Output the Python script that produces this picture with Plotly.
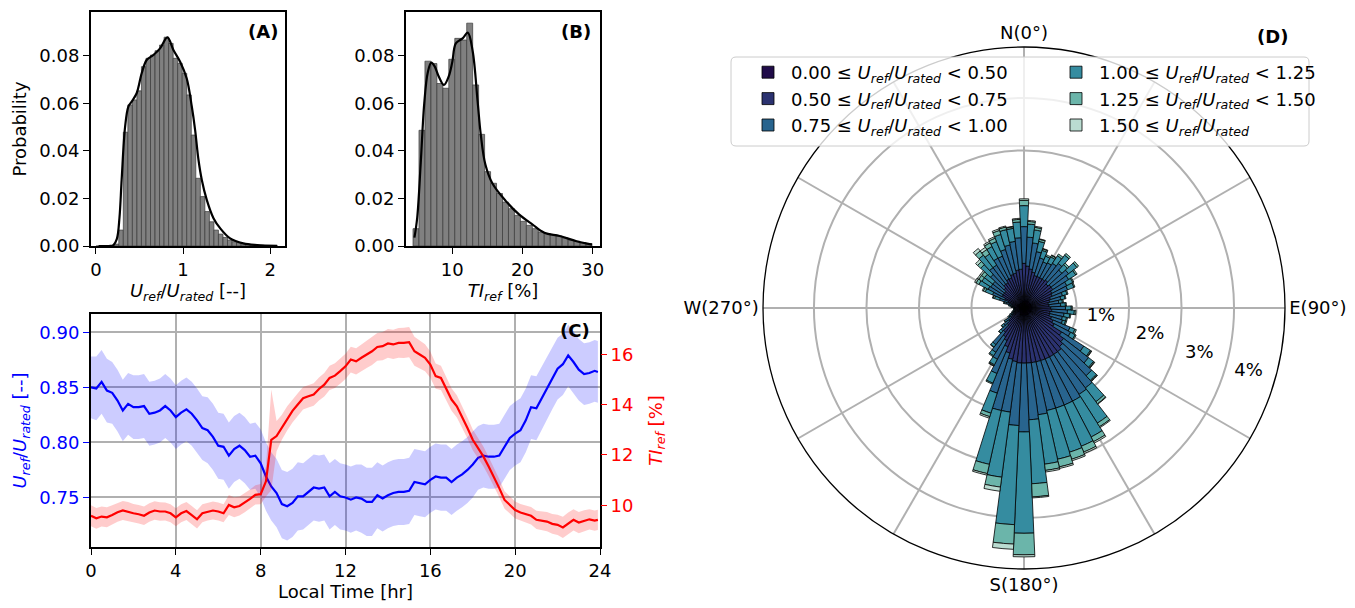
import math
import plotly.graph_objects as go

W, H = 1355, 608
FONT = "DejaVu Sans"
FS = 18

# ---------------- (A) normalised wind speed distribution ----------------
u_bin_width = 0.052
u_bin_centers = [0.028 + u_bin_width * i for i in range(40)]
u_prob = [0.0, 0.0, 0.0001, 0.0002, 0.0008, 0.0067, 0.0479, 0.0594, 0.0615, 0.0653,
          0.0755, 0.0790, 0.0804, 0.0822, 0.0846, 0.0879, 0.0853, 0.0790, 0.0769, 0.0727,
          0.0636, 0.0467, 0.0285, 0.0208, 0.0145, 0.0102, 0.0067, 0.0050, 0.0036, 0.0025,
          0.0018, 0.0014, 0.0011, 0.0008, 0.0006, 0.0004, 0.0003, 0.0002, 0.0001, 0.0001]
u_kde_x = [0.03, 0.15, 0.20, 0.24, 0.27, 0.295, 0.334, 0.372, 0.41, 0.467, 0.525, 0.582,
           0.659, 0.736, 0.82, 0.889, 0.966, 1.042, 1.10, 1.138, 1.177, 1.215, 1.272, 1.349,
           1.425, 1.54, 1.69, 1.85, 2.08]
u_kde_y = [0.0, 0.0, 0.0004, 0.003, 0.012, 0.028, 0.050, 0.0587, 0.0608, 0.0643, 0.0727,
           0.0783, 0.0804, 0.0832, 0.0878, 0.0825, 0.0776, 0.0705, 0.0587, 0.0489, 0.0362,
           0.0278, 0.0194, 0.0117, 0.0075, 0.0032, 0.0011, 0.0004, 0.0001]

# ---------------- (B) turbulence intensity distribution ----------------
ti_bin_width = 0.85
ti_bin_centers = [4.825 + ti_bin_width * i for i in range(30)]
ti_prob = [0.0073, 0.0487, 0.0778, 0.0768, 0.0684, 0.0664, 0.0786, 0.0874, 0.0867, 0.0938,
           0.0678, 0.0470, 0.0313, 0.0264, 0.0221, 0.0185, 0.0157, 0.0129, 0.0104, 0.0087,
           0.0073, 0.0059, 0.0052, 0.0048, 0.0042, 0.0034, 0.0025, 0.0020, 0.0014, 0.0010]
ti_kde_x = [4.6, 5.0, 5.5, 6.0, 6.5, 7.0, 7.5, 8.0, 8.8, 9.5, 10.0, 10.5, 11.5, 12.2,
            12.9, 13.6, 14.05, 14.7, 15.7, 17.6, 19.5, 21.4, 23.1, 25.3, 27.7, 29.9]
ti_kde_y = [0.0035, 0.012, 0.035, 0.060, 0.073, 0.0772, 0.0755, 0.0718, 0.0678, 0.0715,
            0.0775, 0.0853, 0.0875, 0.0898, 0.082, 0.061, 0.047, 0.0344, 0.0264, 0.019,
            0.0133, 0.0091, 0.0056, 0.0042, 0.002, 0.0006]

# ---------------- (C) diurnal cycle ----------------
hours = [0.25 * i for i in range(96)] + [23.9]
u_mean = [0.850, 0.849, 0.855, 0.847, 0.845, 0.838, 0.829, 0.835, 0.832, 0.832, 0.833, 0.826,
          0.827, 0.829, 0.833, 0.829, 0.823, 0.827, 0.830, 0.826, 0.820, 0.813, 0.811, 0.805,
          0.797, 0.796, 0.788, 0.794, 0.797, 0.793, 0.787, 0.788, 0.781, 0.769, 0.760, 0.754,
          0.744, 0.742, 0.745, 0.751, 0.751, 0.755, 0.759, 0.758, 0.759, 0.751, 0.755, 0.751,
          0.750, 0.748, 0.750, 0.749, 0.746, 0.746, 0.752, 0.749, 0.752, 0.754, 0.755, 0.755,
          0.756, 0.764, 0.763, 0.762, 0.766, 0.769, 0.768, 0.768, 0.764, 0.768, 0.771, 0.775,
          0.780, 0.786, 0.788, 0.787, 0.787, 0.788, 0.796, 0.804, 0.808, 0.811, 0.820, 0.832,
          0.831, 0.840, 0.849, 0.858, 0.867, 0.871, 0.879, 0.873, 0.866, 0.862, 0.863, 0.865,
          0.864]
u_std = [0.028, 0.029, 0.029, 0.029, 0.028, 0.028, 0.028, 0.028, 0.029, 0.029, 0.029, 0.029,
         0.029, 0.029, 0.029, 0.029, 0.029, 0.029, 0.029, 0.029, 0.029, 0.029, 0.030, 0.030,
         0.030, 0.030, 0.030, 0.030, 0.030, 0.030, 0.030, 0.030, 0.031, 0.031, 0.031, 0.031,
         0.031, 0.031, 0.031, 0.031, 0.030, 0.030, 0.030, 0.030, 0.030, 0.030, 0.030, 0.030,
         0.030, 0.030, 0.030, 0.031, 0.031, 0.031, 0.030, 0.030, 0.030, 0.030, 0.030, 0.030,
         0.030, 0.030, 0.030, 0.030, 0.030, 0.030, 0.030, 0.030, 0.030, 0.030, 0.030, 0.030,
         0.030, 0.029, 0.029, 0.029, 0.029, 0.029, 0.029, 0.029, 0.029, 0.029, 0.029, 0.029,
         0.029, 0.029, 0.028, 0.028, 0.028, 0.028, 0.028, 0.028, 0.028, 0.028, 0.028, 0.028,
         0.028]
ti_mean = [9.58, 9.48, 9.55, 9.52, 9.61, 9.72, 9.79, 9.75, 9.68, 9.64, 9.58, 9.71,
           9.79, 9.75, 9.75, 9.68, 9.52, 9.68, 9.77, 9.61, 9.44, 9.68, 9.75, 9.79,
           9.75, 9.68, 10.01, 9.92, 9.97, 10.10, 10.25, 10.41, 10.44, 10.95, 12.60, 12.75,
           13.10, 13.45, 13.75, 14.00, 14.25, 14.33, 14.40, 14.62, 14.79, 15.06, 15.15, 15.33,
           15.52, 15.79, 15.72, 15.86, 15.99, 16.12, 16.29, 16.32, 16.43, 16.39, 16.45, 16.45,
           16.48, 16.12, 15.99, 15.86, 15.59, 15.13, 15.06, 14.60, 14.20, 13.93, 13.53, 13.07,
           12.60, 12.27, 11.94, 11.54, 11.14, 10.68, 10.21, 10.01, 9.81, 9.71, 9.65, 9.58,
           9.42, 9.39, 9.35, 9.26, 9.22, 9.12, 9.28, 9.42, 9.31, 9.39, 9.44, 9.39,
           9.42]
ti_std = [0.42, 0.41, 0.40, 0.40, 0.39, 0.38, 0.38, 0.38, 0.37, 0.37, 0.37, 0.37,
          0.37, 0.37, 0.36, 0.36, 0.36, 0.36, 0.36, 0.36, 0.36, 0.36, 0.36, 0.36,
          0.36, 0.36, 0.40, 0.40, 0.38, 0.38, 0.38, 0.38, 0.40, 0.60, 2.00, 0.60,
          0.50, 0.48, 0.46, 0.45, 0.45, 0.45, 0.45, 0.46, 0.47, 0.48, 0.49, 0.50,
          0.50, 0.51, 0.52, 0.53, 0.54, 0.55, 0.55, 0.56, 0.57, 0.58, 0.59, 0.60,
          0.60, 0.58, 0.56, 0.54, 0.52, 0.50, 0.48, 0.46, 0.45, 0.44, 0.43, 0.42,
          0.41, 0.40, 0.39, 0.38, 0.37, 0.36, 0.35, 0.34, 0.34, 0.34, 0.34, 0.35,
          0.36, 0.37, 0.38, 0.39, 0.40, 0.42, 0.43, 0.42, 0.42, 0.41, 0.40, 0.40,
          0.40]

# ---------------- (D) wind rose: frequency [%] per 5-deg sector and speed class ----------------
directions = [5 * i for i in range(72)]
speed_labels = [
    "0.00 ≤ <i>U</i><sub><i>ref</i></sub>/<i>U</i><sub><i>rated</i></sub> &lt; 0.50",
    "0.50 ≤ <i>U</i><sub><i>ref</i></sub>/<i>U</i><sub><i>rated</i></sub> &lt; 0.75",
    "0.75 ≤ <i>U</i><sub><i>ref</i></sub>/<i>U</i><sub><i>rated</i></sub> &lt; 1.00",
    "1.00 ≤ <i>U</i><sub><i>ref</i></sub>/<i>U</i><sub><i>rated</i></sub> &lt; 1.25",
    "1.25 ≤ <i>U</i><sub><i>ref</i></sub>/<i>U</i><sub><i>rated</i></sub> &lt; 1.50",
    "1.50 ≤ <i>U</i><sub><i>ref</i></sub>/<i>U</i><sub><i>rated</i></sub>",
]
speed_colors = ["#200c49", "#2b3270", "#28648e", "#358ca0", "#6bb5aa", "#badcd1"]
# each row of 12 covers 60 degrees: 0-55, 60-115, 120-175, 180-235, 240-295, 300-355
freq_000_050 = [0.15, 0.15, 0.15, 0.15, 0.15, 0.15, 0.15, 0.15, 0.15, 0.15, 0.15, 0.15,
                0.15, 0.15, 0.15, 0.15, 0.15, 0.15, 0.15, 0.15, 0.15, 0.15, 0.15, 0.15,
                0.15, 0.15, 0.15, 0.15, 0.15, 0.15, 0.15, 0.15, 0.15, 0.15, 0.15, 0.15,
                0.15, 0.15, 0.15, 0.15, 0.15, 0.15, 0.15, 0.15, 0.13, 0.12, 0.12, 0.10,
                0.10, 0.10, 0.10, 0.10, 0.10, 0.10, 0.10, 0.10, 0.10, 0.10, 0.12, 0.12,
                0.12, 0.12, 0.12, 0.12, 0.12, 0.12, 0.12, 0.12, 0.12, 0.13, 0.13, 0.14]
freq_050_075 = [0.70, 0.65, 0.60, 0.55, 0.50, 0.50, 0.50, 0.50, 0.52, 0.47, 0.50, 0.50,
                0.45, 0.43, 0.38, 0.35, 0.32, 0.33, 0.36, 0.38, 0.35, 0.35, 0.40, 0.45,
                0.50, 0.70, 0.80, 0.85, 0.90, 0.90, 0.90, 0.90, 0.90, 0.90, 0.90, 0.90,
                0.90, 0.90, 0.88, 0.85, 0.75, 0.65, 0.55, 0.50, 0.45, 0.32, 0.25, 0.20,
                0.15, 0.12, 0.10, 0.08, 0.07, 0.07, 0.07, 0.09, 0.11, 0.15, 0.20, 0.28,
                0.35, 0.35, 0.35, 0.40, 0.45, 0.45, 0.50, 0.50, 0.55, 0.55, 0.60, 0.60]
freq_075_100 = [0.70, 0.55, 0.50, 0.40, 0.35, 0.30, 0.32, 0.36, 0.40, 0.36, 0.42, 0.36,
                0.32, 0.32, 0.24, 0.22, 0.20, 0.22, 0.28, 0.30, 0.27, 0.25, 0.22, 0.35,
                0.35, 0.50, 0.60, 0.75, 0.87, 0.90, 0.95, 0.95, 0.95, 0.95, 1.00, 1.08,
                1.31, 1.19, 0.97, 1.00, 0.80, 0.55, 0.40, 0.35, 0.30, 0.16, 0.12, 0.10,
                0.07, 0.05, 0.04, 0.03, 0.02, 0.02, 0.02, 0.04, 0.06, 0.10, 0.17, 0.25,
                0.30, 0.28, 0.28, 0.35, 0.40, 0.40, 0.45, 0.45, 0.50, 0.55, 0.55, 0.60]
freq_100_125 = [0.40, 0.25, 0.25, 0.20, 0.15, 0.12, 0.13, 0.17, 0.20, 0.14, 0.20, 0.16,
                0.13, 0.13, 0.09, 0.08, 0.07, 0.09, 0.11, 0.13, 0.11, 0.08, 0.06, 0.10,
                0.10, 0.15, 0.12, 0.12, 0.33, 0.65, 0.77, 0.85, 0.88, 0.95, 0.95, 1.22,
                1.93, 1.89, 1.25, 1.05, 0.40, 0.20, 0.12, 0.08, 0.06, 0.05, 0.05, 0.04,
                0.03, 0.03, 0.01, 0.01, 0.01, 0.01, 0.01, 0.02, 0.03, 0.04, 0.10, 0.15,
                0.20, 0.20, 0.20, 0.25, 0.30, 0.25, 0.25, 0.30, 0.30, 0.30, 0.25, 0.30]
freq_125_150 = [0.10, 0.05, 0.05, 0.04, 0.03, 0.03, 0.03, 0.04, 0.04, 0.04, 0.04, 0.03,
                0.02, 0.02, 0.02, 0.02, 0.02, 0.02, 0.02, 0.03, 0.02, 0.02, 0.02, 0.03,
                0.02, 0.02, 0.02, 0.02, 0.05, 0.08, 0.10, 0.12, 0.14, 0.15, 0.12, 0.25,
                0.41, 0.37, 0.19, 0.18, 0.07, 0.02, 0.02, 0.02, 0.01, 0.01, 0.01, 0.01,
                0.0, 0.0, 0.0, 0.0, 0.0, 0.0, 0.0, 0.0, 0.0, 0.01, 0.03, 0.04,
                0.06, 0.07, 0.07, 0.08, 0.10, 0.10, 0.08, 0.07, 0.08, 0.05, 0.03, 0.05]
freq_150_up = [0.03, 0.02, 0.02, 0.01, 0.01, 0.0, 0.01, 0.0, 0.0, 0.0, 0.0, 0.0,
               0.0, 0.0, 0.0, 0.0, 0.0, 0.0, 0.0, 0.0, 0.0, 0.0, 0.0, 0.0,
               0.0, 0.01, 0.01, 0.01, 0.01, 0.02, 0.03, 0.03, 0.03, 0.03, 0.03, 0.02,
               0.04, 0.10, 0.08, 0.03, 0.03, 0.0, 0.01, 0.0, 0.0, 0.0, 0.0, 0.0,
               0.0, 0.0, 0.0, 0.0, 0.0, 0.0, 0.0, 0.0, 0.0, 0.0, 0.01, 0.02,
               0.03, 0.03, 0.03, 0.05, 0.06, 0.05, 0.03, 0.03, 0.03, 0.02, 0.01, 0.02]
rose_freqs = [freq_000_050, freq_050_075, freq_075_100, freq_100_125, freq_125_150, freq_150_up]
radial_ticks = [1, 2, 3, 4]
angular_ticks = [30 * i for i in range(12)]
angular_text = ["N(0°)", "", "", "E(90°)", "", "", "S(180°)", "", "", "W(270°)", "", ""]

fig = go.Figure()

# ---- histograms with kde ----
fig.add_trace(go.Bar(x=u_bin_centers, y=u_prob, width=u_bin_width,
                     marker=dict(color="#808080", line=dict(color="#3a3a3a", width=0.7)),
                     showlegend=False, xaxis="x", yaxis="y"))
fig.add_trace(go.Scatter(x=u_kde_x, y=u_kde_y, mode="lines", line=dict(color="black", width=2.2),
                         line_shape="spline", showlegend=False, xaxis="x", yaxis="y"))
fig.add_trace(go.Bar(x=ti_bin_centers, y=ti_prob, width=ti_bin_width,
                     marker=dict(color="#808080", line=dict(color="#3a3a3a", width=0.7)),
                     showlegend=False, xaxis="x2", yaxis="y2"))
fig.add_trace(go.Scatter(x=ti_kde_x, y=ti_kde_y, mode="lines", line=dict(color="black", width=2.2),
                         line_shape="spline", showlegend=False, xaxis="x2", yaxis="y2"))

# ---- diurnal cycle with +/- one standard deviation ----
u_lo = [m - s for m, s in zip(u_mean, u_std)]
u_hi = [m + s for m, s in zip(u_mean, u_std)]
ti_lo = [m - s for m, s in zip(ti_mean, ti_std)]
ti_hi = [m + s for m, s in zip(ti_mean, ti_std)]
fig.add_trace(go.Scatter(x=hours + hours[::-1], y=u_hi + u_lo[::-1], fill="toself",
                         fillcolor="rgba(0,0,255,0.2)", line=dict(width=0), hoverinfo="skip",
                         showlegend=False, xaxis="x3", yaxis="y3"))
fig.add_trace(go.Scatter(x=hours, y=u_mean, mode="lines", line=dict(color="blue", width=2.2),
                         showlegend=False, xaxis="x3", yaxis="y3"))
fig.add_trace(go.Scatter(x=hours + hours[::-1], y=ti_hi + ti_lo[::-1], fill="toself",
                         fillcolor="rgba(255,0,0,0.2)", line=dict(width=0), hoverinfo="skip",
                         showlegend=False, xaxis="x3", yaxis="y4"))
fig.add_trace(go.Scatter(x=hours, y=ti_mean, mode="lines", line=dict(color="red", width=2.2),
                         showlegend=False, xaxis="x3", yaxis="y4"))

# ---- wind rose (stacked by speed class), legend split in two columns ----
for k, (lab, col, fr) in enumerate(zip(speed_labels, speed_colors, rose_freqs)):
    fig.add_trace(go.Barpolar(r=fr, theta=directions, width=5, name=lab,
                              marker=dict(color=col, line=dict(color="black", width=0.8)),
                              legend="legend" if k < 3 else "legend2"))

# radial percentage labels, placed beside each ring along a ray at 110.5 deg
ray, along, perp = 110.5, 0.43, 0.36
fig.add_trace(go.Scatterpolar(
    r=[math.hypot(t + along, perp) for t in radial_ticks],
    theta=[ray - math.degrees(math.atan2(perp, t + along)) for t in radial_ticks],
    text=[f"{t}%" for t in radial_ticks], mode="text",
    textfont=dict(family=FONT, size=FS, color="black"), showlegend=False, hoverinfo="skip"))

u_title = "<i>U</i><sub><i>ref</i></sub>/<i>U</i><sub><i>rated</i></sub> [--]"
ti_title = "<i>TI</i><sub><i>ref</i></sub> [%]"

tick_font = dict(family=FONT, size=FS, color="black")
axis_common = dict(showline=True, linecolor="black", linewidth=2, mirror=True,
                   ticks="outside", ticklen=6, tickwidth=1.3, tickcolor="black",
                   tickfont=tick_font, zeroline=False, automargin=False)
GRID = "#b0b0b0"


def xd(a, b):
    return [a / W, b / W]


def yd(top, bottom):
    return [1 - bottom / H, 1 - top / H]


def title(text, color="black", standoff=4):
    return dict(text=text, standoff=standoff, font=dict(family=FONT, size=FS, color=color))


legend_common = dict(orientation="v", xanchor="left", yanchor="top",
                     bgcolor="rgba(0,0,0,0)", borderwidth=0, itemwidth=36,
                     font=dict(family=FONT, size=FS, color="black"), tracegroupgap=0)

fig.update_layout(
    width=W, height=H, margin=dict(l=0, r=0, t=0, b=0, autoexpand=False),
    paper_bgcolor="white", plot_bgcolor="white",
    font=dict(family=FONT, size=FS, color="black"),
    barmode="overlay",
    xaxis=dict(domain=xd(91, 285), anchor="y", range=[-0.057, 2.17], tickvals=[0, 1, 2],
               showgrid=False, title=title(u_title, standoff=6), **axis_common),
    yaxis=dict(domain=yd(12, 246), anchor="x", range=[0, 0.0985],
               tickvals=[0, 0.02, 0.04, 0.06, 0.08], tickformat=".2f", showgrid=False,
               title=title("Probability", standoff=8), **axis_common),
    xaxis2=dict(domain=xd(406, 600), anchor="y2", range=[3.4, 31.04], tickvals=[10, 20, 30],
                showgrid=False, title=title(ti_title, standoff=6), **axis_common),
    yaxis2=dict(domain=yd(12, 246), anchor="x2", range=[0, 0.0985],
                tickvals=[0, 0.02, 0.04, 0.06, 0.08], tickformat=".2f", showgrid=False,
                **axis_common),
    xaxis3=dict(domain=xd(91, 600), anchor="y3", range=[0, 24], tickvals=[0, 4, 8, 12, 16, 20, 24],
                showgrid=True, gridcolor=GRID, gridwidth=1.5,
                title=title("Local Time [hr]", standoff=4), **axis_common),
    yaxis3=dict(domain=yd(314, 547), anchor="x3", range=[0.705, 0.9166],
                tickvals=[0.75, 0.80, 0.85, 0.90], tickformat=".2f",
                showgrid=True, gridcolor=GRID, gridwidth=1.5,
                title=title(u_title, "blue", 8),
                showline=True, linecolor="black", linewidth=2, mirror=True,
                ticks="outside", ticklen=6, tickwidth=1.3, tickcolor="blue",
                tickfont=dict(family=FONT, size=FS, color="blue"), zeroline=False,
                automargin=False),
    yaxis4=dict(overlaying="y3", anchor="x3", side="right", range=[8.34, 17.6],
                tickvals=[10, 12, 14, 16], showgrid=False,
                title=title(ti_title, "red", 16),
                showline=False, ticks="outside", ticklen=6, tickwidth=1.3, tickcolor="red",
                tickfont=dict(family=FONT, size=FS, color="red"), zeroline=False,
                automargin=False),
    polar=dict(
        domain=dict(x=xd(763, 1285), y=yd(47, 569)),
        bgcolor="white", barmode="stack", bargap=0,
        angularaxis=dict(rotation=90, direction="clockwise", tickmode="array",
                         tickvals=angular_ticks, ticktext=angular_text, ticks="",
                         showline=True, linecolor="black", linewidth=1.3,
                         showgrid=True, gridcolor=GRID, gridwidth=1.5,
                         tickfont=tick_font, layer="above traces"),
        radialaxis=dict(range=[0, 4.97], tickvals=radial_ticks, showticklabels=False,
                        ticks="", showline=False, showgrid=True, gridcolor=GRID,
                        gridwidth=1.5, layer="above traces"),
    ),
    legend=dict(x=745 / W, y=1 - 54 / H, **legend_common),
    legend2=dict(x=1053 / W, y=1 - 54 / H, **legend_common),
)

# frame behind the two legend columns
x0, x1, y0, y1, rad = 731 / W, 1309 / W, 1 - 146 / H, 1 - 57 / H, 5
rx, ry = rad / W, rad / H
frame = (f"M {x0 + rx},{y1} L {x1 - rx},{y1} Q {x1},{y1} {x1},{y1 - ry} "
         f"L {x1},{y0 + ry} Q {x1},{y0} {x1 - rx},{y0} L {x0 + rx},{y0} "
         f"Q {x0},{y0} {x0},{y0 + ry} L {x0},{y1 - ry} Q {x0},{y1} {x0 + rx},{y1} Z")
fig.add_shape(type="path", path=frame, xref="paper", yref="paper", layer="above",
              fillcolor="rgba(255,255,255,0.8)", line=dict(color="#cccccc", width=1))

panel_tags = [("(A)", 280, 31), ("(B)", 593, 31), ("(C)", 592, 330), ("(D)", 1290, 37)]
for txt, px, py in panel_tags:
    fig.add_annotation(text=f"<b>{txt}</b>", x=px / W, y=1 - py / H, xref="paper", yref="paper",
                       xanchor="right", yanchor="middle", showarrow=False,
                       font=dict(family=FONT, size=FS, color="black"))

fig.write_html("out.html")
